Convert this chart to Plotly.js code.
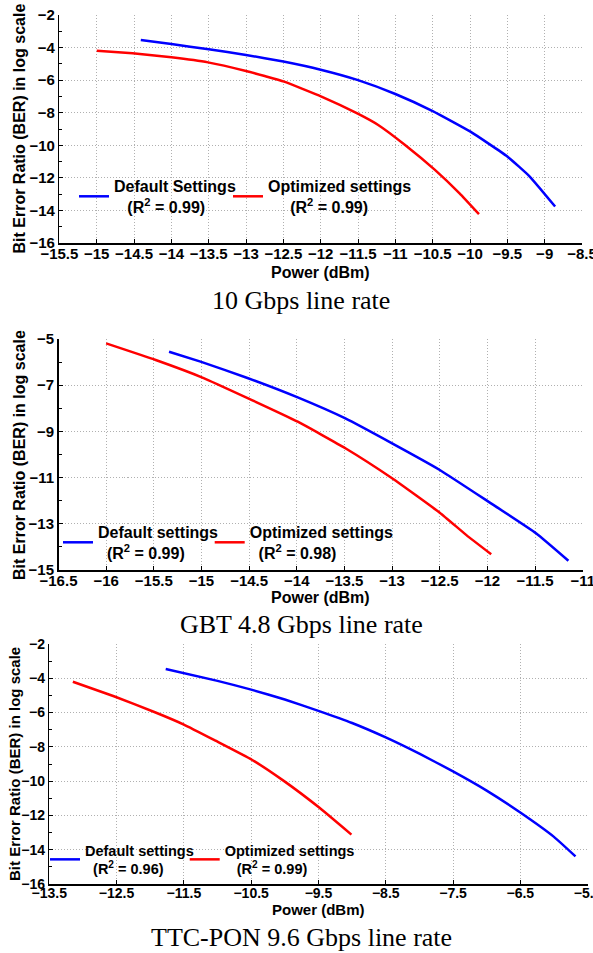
<!DOCTYPE html>
<html>
<head>
<meta charset="utf-8">
<script src="https://cdn.plot.ly/plotly-3.0.1.min.js"></script>
<style>html,body{margin:0;padding:0;background:#fff;}#chart{width:593px;height:953px;}</style>
</head>
<body>
<div id="chart"></div>
<script>
// ---- Panel 1: 10 Gbps line rate ----
const p1DefaultX = [-14.41, -14.0, -13.5, -13.0, -12.5, -12.0, -11.5, -11.0, -10.5, -10.0, -9.5, -9.2, -8.86];
const p1DefaultY = [-3.53, -3.78, -4.11, -4.45, -4.86, -5.36, -6.0, -6.85, -7.9, -9.15, -10.69, -11.92, -13.76];
const p1OptX = [-15.0, -14.52, -14.0, -13.51, -13.0, -12.75, -12.49, -11.99, -11.51, -11.23, -10.87, -10.47, -10.14, -9.88];
const p1OptY = [-4.19, -4.35, -4.6, -4.91, -5.44, -5.75, -6.09, -7.01, -8.04, -8.75, -9.98, -11.51, -12.95, -14.23];
// ---- Panel 2: GBT 4.8 Gbps line rate ----
const p2DefaultX = [-15.34, -15.01, -14.51, -13.99, -13.49, -13.0, -12.5, -11.99, -11.49, -11.15];
const p2DefaultY = [-5.55, -5.98, -6.70, -7.53, -8.44, -9.52, -10.67, -12.04, -13.41, -14.6];
const p2OptX = [-16.0, -15.48, -14.99, -14.51, -13.99, -13.49, -13.0, -12.5, -12.22, -11.96];
const p2OptY = [-5.19, -5.91, -6.67, -7.57, -8.58, -9.73, -11.03, -12.52, -13.49, -14.32];
// ---- Panel 3: TTC-PON 9.6 Gbps line rate ----
const p3DefaultX = [-11.77, -11.0, -10.5, -10.0, -9.5, -9.0, -8.5, -8.0, -7.5, -7.0, -6.5, -6.0, -5.68];
const p3DefaultY = [-3.46, -4.15, -4.66, -5.24, -5.9, -6.61, -7.45, -8.4, -9.43, -10.55, -11.83, -13.25, -14.39];
const p3OptX = [-13.15, -12.54, -11.93, -11.5, -11.03, -10.49, -10.01, -9.48, -9.01];
const p3OptY = [-4.2, -5.05, -5.98, -6.7, -7.64, -8.75, -10.0, -11.57, -13.12];

// Labels
const seriesNames = [
  ['Default Settings', '(R<sup>2</sup> = 0.99)', 'Optimized settings', '(R<sup>2</sup> = 0.99)'],
  ['Default settings', '(R<sup>2</sup> = 0.99)', 'Optimized settings', '(R<sup>2</sup> = 0.98)'],
  ['Default settings', '(R<sup>2</sup> = 0.96)', 'Optimized settings', '(R<sup>2</sup> = 0.99)']
];
const subtitles = ['10 Gbps line rate', 'GBT 4.8 Gbps line rate', 'TTC-PON 9.6 Gbps line rate'];
const xTitle = 'Power (dBm)';
const yTitle = 'Bit Error Ratio (BER) in log scale';

const W = 593, H = 953;
const px = v => v / W;
const py = v => 1 - v / H;
const SANS = 'Liberation Sans, Arial, sans-serif';
const SERIF = 'Liberation Serif, Times New Roman, serif';
const nb = n => '&nbsp;'.repeat(n);

function mkTrace(x, y, color, name, xa, ya, leg, lw) {
  return {x, y, type: 'scatter', mode: 'lines', name,
    line: {color, width: 2.5, shape: 'spline', smoothing: 0.4},
    xaxis: xa, yaxis: ya, legend: leg, legendwidth: lw, hoverinfo: 'skip'};
}

const data = [
  mkTrace(p1DefaultX, p1DefaultY, '#0000ff', seriesNames[0][0] + '<br>' + nb(3) + seriesNames[0][1], 'x', 'y', 'legend', 109),
  mkTrace(p1OptX, p1OptY, '#ff0000', seriesNames[0][2] + '<br>' + nb(5) + seriesNames[0][3], 'x', 'y', 'legend', 170),
  mkTrace(p2DefaultX, p2DefaultY, '#0000ff', seriesNames[1][0] + '<br>' + nb(2) + seriesNames[1][1], 'x2', 'y2', 'legend2', 106.7),
  mkTrace(p2OptX, p2OptY, '#ff0000', seriesNames[1][2] + '<br>' + nb(2) + seriesNames[1][3], 'x2', 'y2', 'legend2', 170),
  mkTrace(p3DefaultX, p3DefaultY, '#0000ff', seriesNames[2][0] + '<br>' + nb(2) + seriesNames[2][1], 'x3', 'y3', 'legend3', 94.7),
  mkTrace(p3OptX, p3OptY, '#ff0000', seriesNames[2][2] + '<br>' + nb(3) + seriesNames[2][3], 'x3', 'y3', 'legend3', 160)
];

function baseAx(domain, range, tick0, dtick, anchor, fs) {
  return {domain, range, tick0, dtick, anchor, tickmode: 'linear',
    showline: true, linecolor: '#000', linewidth: 1.5, mirror: false,
    ticks: 'inside', ticklen: 4, tickcolor: '#000', tickwidth: 1,
    showgrid: true, gridcolor: '#b0b0b0', griddash: '1px,2px', gridwidth: 1,
    zeroline: false, fixedrange: true, ticklabeloverflow: 'allow',
    tickfont: {family: SANS, size: fs, color: '#000', weight: 'bold'}};
}
function xax(domain, range, tick0, dtick, anchor, fs) {
  const a = baseAx(domain, range, tick0, dtick, anchor, fs);
  a.ticklabelstandoff = -4;
  return a;
}
function yax(domain, range, tick0, dtick, anchor, fs) {
  const a = baseAx(domain, range, tick0, dtick, anchor, fs);
  a.minor = {dtick: 1, tick0: tick0, ticks: 'inside', ticklen: 3, tickcolor: '#000', showgrid: false};
  return a;
}
function leg(xpx, ypx, fs, ew) {
  return {x: px(xpx), y: py(ypx), xanchor: 'left', yanchor: 'top', orientation: 'h',
    bgcolor: 'rgba(0,0,0,0)', borderwidth: 0, itemwidth: 30, valign: 'middle',
    entrywidth: ew, entrywidthmode: 'pixels', tracegroupgap: 0,
    font: {family: SANS, size: fs, color: '#000', weight: 'bold'}};
}
function ann(text, xpx, ypx, fs, family, bold, angle) {
  return {text, x: px(xpx), y: py(ypx), xref: 'paper', yref: 'paper', showarrow: false,
    xanchor: 'center', yanchor: 'middle', textangle: angle || 0,
    font: {family, size: fs, color: '#000', weight: bold ? 'bold' : 'normal'}};
}

const layout = {
  width: W, height: H, margin: {l: 0, r: 0, t: 0, b: 0},
  paper_bgcolor: '#fff', plot_bgcolor: '#fff', showlegend: true,
  xaxis: xax([px(59.4), px(582)], [-15.5, -8.5], -15.5, 0.5, 'y', 15),
  yaxis: yax([py(243), py(15)], [-16, -2], -16, 2, 'x', 15),
  xaxis2: xax([px(58.5), px(582.7)], [-16.5, -11], -16.5, 0.5, 'y2', 15),
  yaxis2: yax([py(570), py(339)], [-15, -5], -15, 2, 'x2', 15),
  xaxis3: xax([px(49.3), px(587.6)], [-13.5, -5.5], -13.5, 1, 'y3', 14),
  yaxis3: yax([py(884), py(644)], [-16, -2], -16, 2, 'x3', 14),
  legend: leg(74, 169, 16, 109),
  legend2: leg(58, 515, 16, 106.7),
  legend3: leg(45, 834, 14.5, 94.7),
  annotations: [
    ann(yTitle, 19.5, 129, 16, SANS, true, -90),
    ann(yTitle, 19.5, 455.5, 16, SANS, true, -90),
    ann(yTitle, 14, 764, 15, SANS, true, -90),
    ann(xTitle, 320.5, 273, 16, SANS, true),
    ann(xTitle, 320.6, 597, 16, SANS, true),
    ann(xTitle, 318.5, 909, 15, SANS, true),
    ann(subtitles[0], 301, 301, 26, SERIF, false),
    ann(subtitles[1], 301, 624, 26, SERIF, false),
    ann(subtitles[2], 301, 937, 26, SERIF, false)
  ]
};

Plotly.newPlot('chart', data, layout, {displayModeBar: false, staticPlot: true});
</script>
</body>
</html>
